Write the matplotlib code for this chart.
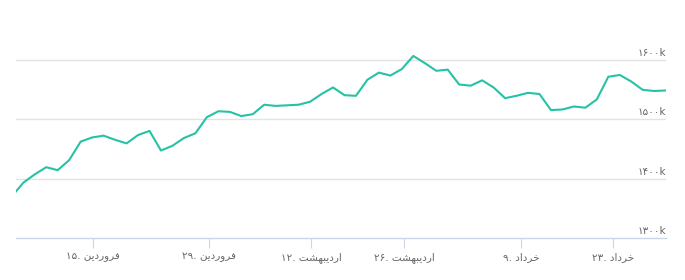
import matplotlib
matplotlib.use("Agg")
import matplotlib.pyplot as plt
from matplotlib.transforms import blended_transform_factory, offset_copy

# ---- data (values in thousands) ----
values = [1370, 1393, 1407, 1419, 1414, 1431, 1462, 1469, 1472, 1465,
          1459, 1473, 1480, 1447, 1455, 1468, 1476, 1503, 1513, 1512,
          1505, 1508, 1524, 1522, 1523, 1524, 1529, 1542, 1553, 1540,
          1539, 1566, 1578, 1573, 1584, 1606, 1594, 1581, 1583, 1558,
          1556, 1565, 1553, 1535, 1539, 1544, 1542, 1515, 1516, 1521,
          1519, 1533, 1571, 1574, 1563, 1549, 1547, 1548]
# x tick positions on the ordinal (trading-day) axis and their labels
tick_pos = [7.08, 17.19, 26.08, 34.19, 44.39, 52.41]
tick_labels = ["۱۵. فروردین", "۲۹. فروردین", "۱۲. اردیبهشت",
               "۲۶. اردیبهشت", "۹. خرداد", "۲۳. خرداد"]
y_ticks = [1300, 1400, 1500, 1600]
y_labels = ["۱۳۰۰k", "۱۴۰۰k", "۱۵۰۰k", "۱۶۰۰k"]

# ---- minimal Persian shaping (matplotlib has no complex text layout) ----
FORMS = {  # iso, fin, ini, med
    "ف": ("\uFED1", "\uFED2", "\uFED3", "\uFED4"),
    "ی": ("\uFBFC", "\uFBFD", "\uFBFE", "\uFBFF"),
    "ن": ("\uFEE5", "\uFEE6", "\uFEE7", "\uFEE8"),
    "ب": ("\uFE8F", "\uFE90", "\uFE91", "\uFE92"),
    "ه": ("\uFEE9", "\uFEEA", "\uFEEB", "\uFEEC"),
    "ش": ("\uFEB5", "\uFEB6", "\uFEB7", "\uFEB8"),
    "ت": ("\uFE95", "\uFE96", "\uFE97", "\uFE98"),
    "خ": ("\uFEA5", "\uFEA6", "\uFEA7", "\uFEA8"),
    "ر": ("\uFEAD", "\uFEAE"),
    "و": ("\uFEED", "\uFEEE"),
    "د": ("\uFEA9", "\uFEAA"),
    "ا": ("\uFE8D", "\uFE8E"),
}


def shape_word(w):
    out = []
    for i, c in enumerate(w):
        if c not in FORMS:
            out.append(c)
            continue
        prev = w[i - 1] if i > 0 else None
        nxt = w[i + 1] if i + 1 < len(w) else None
        jp = prev in FORMS and len(FORMS[prev]) == 4
        jn = len(FORMS[c]) == 4 and nxt in FORMS
        f = FORMS[c]
        if jp and jn:
            out.append(f[3])
        elif jp:
            out.append(f[1])
        elif jn:
            out.append(f[2])
        else:
            out.append(f[0])
    return "".join(reversed(out))


def visual(s):
    return " ".join(shape_word(t) if any(ch in FORMS for ch in t) else t
                    for t in s.split(" "))


plt.rcParams["font.family"] = ["DejaVu Sans"]

W, H = 685, 280
fig = plt.figure(figsize=(W / 100, H / 100), dpi=100)
ax = fig.add_axes([16 / W, 1 - 238 / H, (666 - 16) / W, 238 / H])

x = list(range(len(values)))
ax.plot(x, values, color="#26c2a5", lw=1.5, solid_joinstyle="round",
        solid_capstyle="round", zorder=3, clip_on=True)

ax.set_xlim(0.36, 57.03)
ax.set_ylim(1300, 1700)

for yv in y_ticks[1:]:
    ax.axhline(yv, color="#e3e3e3", lw=1.0, zorder=1)

for s in ["top", "right", "left"]:
    ax.spines[s].set_visible(False)
ax.spines["bottom"].set_color("#ccd6eb")
ax.spines["bottom"].set_linewidth(1.0)

ax.set_yticks([])
ax.set_xticks(tick_pos)
ax.set_xticklabels([visual(t) for t in tick_labels], fontsize=7.5,
                   color="#666666")
ax.tick_params(axis="x", length=7, width=0.8, color="#ccd6eb", pad=3)

trans = blended_transform_factory(ax.transAxes, ax.transData)
trans = offset_copy(trans, fig=fig, x=0, y=1.2, units="points")
for yv, lab in zip(y_ticks, y_labels):
    ax.text(1.0, yv, lab, transform=trans, ha="right", va="bottom",
            fontsize=7.5, color="#666666")

fig.savefig("out.png", dpi=100)
